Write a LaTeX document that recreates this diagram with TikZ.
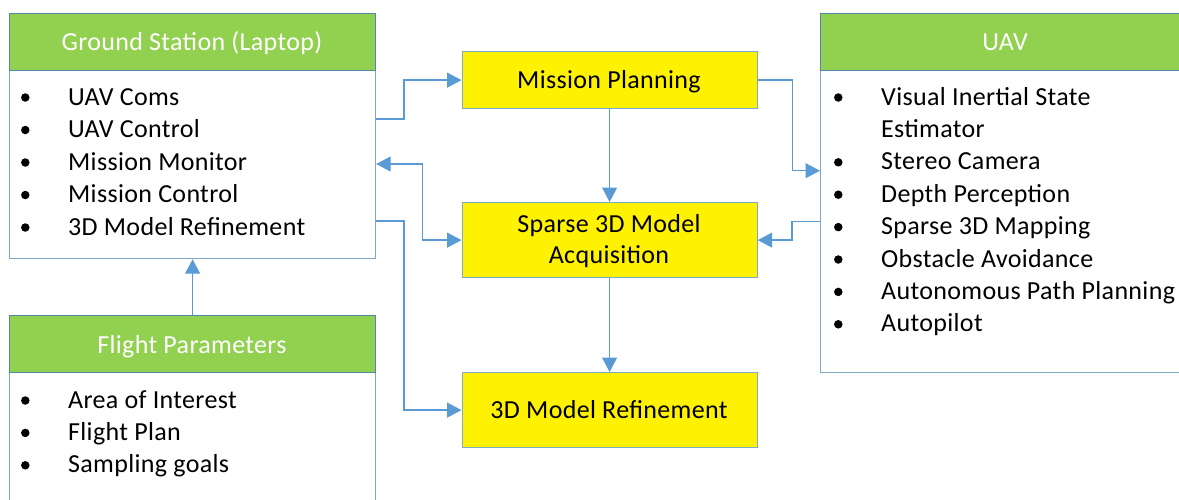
\documentclass[tikz,border=0pt]{standalone}
\usepackage{fontspec}
\setmainfont[LetterSpace=1.3]{Carlito}
\usetikzlibrary{arrows.meta}
\definecolor{hgreen}{HTML}{92D050}
\definecolor{hline}{HTML}{5089A8}
\definecolor{bline}{HTML}{7FA7C6}
\definecolor{conn}{HTML}{5B9BD5}
\begin{document}
\begin{tikzpicture}[x=1pt,y=-1pt, font=\fontsize{26}{31}\selectfont,
 frame/.style={draw=bline, line width=1.2pt, inner sep=0, anchor=north west},
 header/.style={draw=hline, fill=hgreen, line width=1.2pt, inner sep=0, anchor=north west},
 yel/.style={draw=bline, fill=yellow, line width=1.2pt, inner sep=0, anchor=north west, minimum width=295pt},
 lbl/.style={anchor=base, inner sep=0},
 item/.style={anchor=base west, inner sep=0},
 dot/.style={circle, fill=black, inner sep=0, minimum size=8.5pt},
 link/.style={draw=conn, line width=1.3pt, -{Triangle[length=14.5pt,width=15pt]}}]
\useasboundingbox (0,0) rectangle (1179,499);
\clip (0,0) rectangle (1179,499);

% Ground station
\node[frame, minimum width=366pt, minimum height=245pt] (gs) at (9,13) {};
\node[header, minimum width=366pt, minimum height=57pt] (gsh) at (9,13) {};
\node[lbl, white] (gst) at (192,50) {Ground Station (Laptop)};
\foreach \t [count=\i] in {UAV Coms, UAV Control, Mission Monitor, Mission Control, 3D Model Refinement} {
  \node[dot] (gsd\i) at (25.3,{97.5+32.5*(\i-1)}) {};
  \node[item] (gsi\i) at (68,{105+32.5*(\i-1)}) {\t};
}

% Flight parameters
\node[frame, minimum width=366pt, minimum height=220pt] (fp) at (9,315) {};
\node[header, minimum width=366pt, minimum height=57pt] (fph) at (9,315) {};
\node[lbl, white] (fpt) at (192,353) {Flight Parameters};
\foreach \t [count=\i] in {Area of Interest, Flight Plan, Sampling goals} {
  \node[dot] (fpd\i) at (25.3,{400.5+32.4*(\i-1)}) {};
  \node[item] (fpi\i) at (68,{408+32.4*(\i-1)}) {\t};
}

% UAV
\node[frame, minimum width=370pt, minimum height=359pt] (uav) at (820,13) {};
\node[header, minimum width=370pt, minimum height=57pt] (uavh) at (820,13) {};
\node[lbl, white] (uavt) at (1005,50) {UAV};
\node[dot] (ud1) at (838.3,97.5) {};
\node[item] (ui1) at (881,105) {Visual Inertial State};
\node[item] (ui2) at (881,137.4) {Estimator};
\foreach \t [count=\i from 3] in {Stereo Camera, Depth Perception, Sparse 3D Mapping, Obstacle Avoidance, Autonomous Path Planning, Autopilot} {
  \node[dot] (ud\i) at (838.3,{97.5+32.4*(\i-1)}) {};
  \node[item] (ui\i) at (881,{105+32.4*(\i-1)}) {\t};
}

% Yellow boxes
\node[yel, minimum height=57pt] (mp) at (461.5,51) {};
\node[lbl] (mpt) at (609,88) {Mission Planning};
\node[yel, minimum height=75pt] (sp) at (461.5,202) {};
\node[lbl] (spt1) at (609,232.7) {Sparse 3D Model};
\node[lbl] (spt2) at (609,263) {Acquisition};
\node[yel, minimum height=75pt] (ref) at (461.5,372) {};
\node[lbl] (reft) at (609,418) {3D Model Refinement};

% Connectors
\draw[link] ([yshift=-106pt]gs.north east) -- ++(27.7,0) |- (mp.west);
\draw[link] (mp.east) -- ++(34.7,0) |- ([yshift=-157.7pt]uav.north west);
\draw[link, {Triangle[length=14.5pt,width=15pt]}-{Triangle[length=14.5pt,width=15pt]}] ([yshift=-151pt]gs.north east) -- ++(46,0) |- (sp.west);
\draw[link] ([yshift=-208.7pt]uav.north west) -- ++(-28,0) |- (sp.east);
\draw[link] (mp.south) -- (sp.north);
\draw[link] (sp.south) -- (ref.north);
\draw[link] ([yshift=-208pt]gs.north east) -- ++(27.7,0) |- (ref.west);
\draw[link] (fp.north) -- (gs.south);
\end{tikzpicture}
\end{document}
